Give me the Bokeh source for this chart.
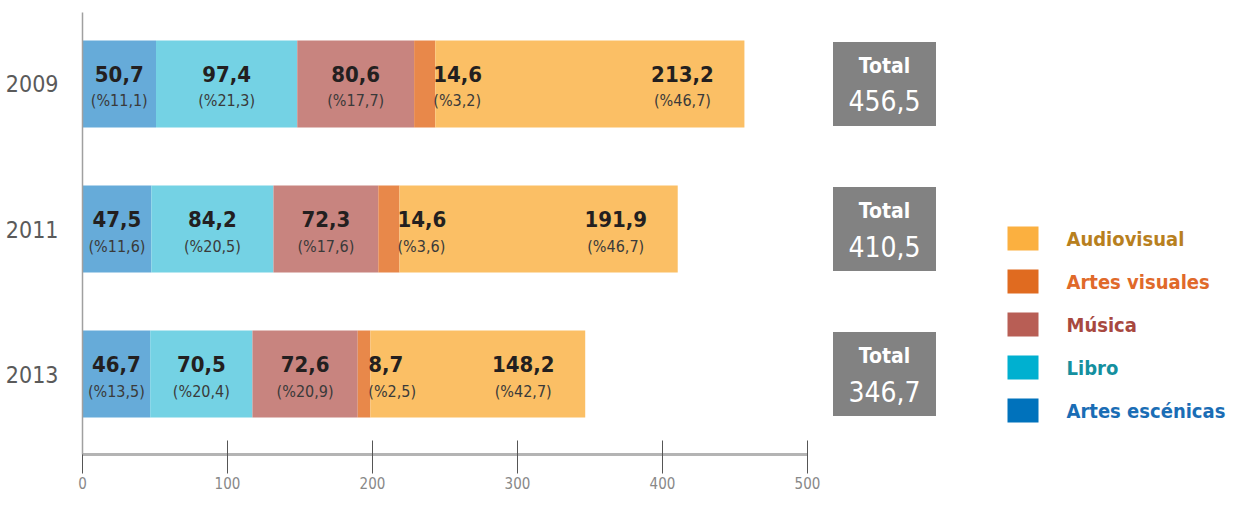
from bokeh.plotting import figure
from bokeh.models import Range1d, LinearAxis, FixedTicker, ColumnDataSource
from bokeh.core.properties import value
from bokeh.embed import file_html
from bokeh.resources import INLINE

# ---------------- data ----------------
years = ["2009", "2011", "2013"]
year_pos = [2, 1, 0]
categories = ["Artes escénicas", "Libro", "Música", "Artes visuales", "Audiovisual"]
artes_escenicas = [50.7, 47.5, 46.7]
libro = [97.4, 84.2, 70.5]
musica = [80.6, 72.3, 72.6]
artes_visuales = [14.6, 14.6, 8.7]
audiovisual = [213.2, 191.9, 148.2]
share_escenicas = [11.1, 11.6, 13.5]
share_libro = [21.3, 20.5, 20.4]
share_musica = [17.7, 17.6, 20.9]
share_visuales = [3.2, 3.6, 2.5]
share_audiovisual = [46.7, 46.7, 42.7]
totals = [456.5, 410.5, 346.7]
x_ticks = [0, 100, 200, 300, 400, 500]

series = [artes_escenicas, libro, musica, artes_visuales, audiovisual]
shares = [share_escenicas, share_libro, share_musica, share_visuales, share_audiovisual]

bar_colors = ["#66abd9", "#74d2e4", "#c8847f", "#e8884a", "#fbbf65"]
legend_colors = ["#0072bc", "#00b0d0", "#b85e55", "#e06b20", "#fbb040"]
legend_text_colors = ["#1a6db5", "#14909f", "#a8483f", "#e0692a", "#b8801e"]

FONT = "DejaVu Sans Condensed"
PX = 1.45          # pixels per x unit
PY = 145.0         # pixels per y unit
LEFT = 82
W, H = 1228, 496

def fmt(v):
    return f"{v:.1f}".replace(".", ",")

p = figure(width=W, height=H,
           x_range=Range1d(0, (W - LEFT) / PX), y_range=Range1d(-0.555, 2.493),
           output_backend="svg", toolbar_location=None,
           x_axis_type=None, y_axis_type=None,
           min_border_left=LEFT, min_border_right=0,
           min_border_top=12, min_border_bottom=42)
p.outline_line_color = None
p.background_fill_color = "white"
p.border_fill_color = "white"

# ---------------- axes ----------------
yax = LinearAxis(ticker=FixedTicker(ticks=year_pos),
                 major_label_overrides={yp: y for yp, y in zip(year_pos, years)})
yax.axis_line_color = "#a0a0a0"
yax.axis_line_width = 1.5
yax.major_tick_line_color = None
yax.minor_tick_line_color = None
yax.major_label_standoff = 18
yax.major_label_text_font = FONT
yax.major_label_text_font_size = "23px"
yax.major_label_text_color = "#5a5a5a"
p.add_layout(yax, "left")

xax = LinearAxis(ticker=FixedTicker(ticks=x_ticks), bounds=(0, 500))
xax.axis_line_color = "#b4b4b4"
xax.axis_line_width = 3
xax.major_tick_line_color = "#555555"
xax.major_tick_line_width = 1
xax.major_tick_in = 14
xax.major_tick_out = 19
xax.minor_tick_line_color = None
xax.major_label_standoff = 3
xax.major_label_text_font = FONT
xax.major_label_text_font_size = "15px"
xax.major_label_text_color = "#888888"
p.add_layout(xax, "below")

# ---------------- bars (all first) ----------------
bar_h = 87 / PY
left = [0.0, 0.0, 0.0]
bounds = []
for ci, vals in enumerate(series):
    right = [l + v for l, v in zip(left, vals)]
    bounds.append((left, right))
    src = ColumnDataSource(dict(y=year_pos, left=left, right=right))
    p.hbar(y="y", left="left", right="right", height=bar_h, source=src,
           fill_color=bar_colors[ci], line_color=None)
    left = right

# ---------------- bar labels (on top of every bar) ----------------
for ci, (vals, shr) in enumerate(zip(series, shares)):
    l_, r_ = bounds[ci]
    if ci == 3:      # Artes visuales: label starting at the end of its segment
        lx = [r - 2 / PX for r in r_]
        align = "left"
    elif ci == 4:    # Audiovisual: label toward the right end
        lx = [r - 62 / PX for r in r_]
        align = "center"
    else:
        lx = [(a + b) / 2 for a, b in zip(l_, r_)]
        align = "center"
    p.text(x=lx, y=[y + 10 / PY for y in year_pos], text=[fmt(v) for v in vals],
           text_font=value(FONT), text_font_size="22px", text_font_style="bold",
           text_color="#231f20", text_align=align, text_baseline="middle")
    p.text(x=lx, y=[y - 17 / PY for y in year_pos],
           text=["(%" + fmt(s) + ")" for s in shr],
           text_font=value(FONT), text_font_size="16px",
           text_color="#3a3a3a", text_align=align, text_baseline="middle")

# ---------------- total boxes ----------------
box_x = [(884 - LEFT) / PX] * 3
p.rect(x=box_x, y=year_pos, width=103, height=84, width_units="screen",
       height_units="screen", fill_color="#828282", line_color=None)
p.text(x=box_x, y=[y + 18 / PY for y in year_pos], text=["Total"] * 3,
       text_font=value(FONT), text_font_size="21px", text_font_style="bold",
       text_color="white", text_align="center", text_baseline="middle")
p.text(x=box_x, y=[y - 17 / PY for y in year_pos], text=[fmt(t) for t in totals],
       text_font=value(FONT), text_font_size="28px",
       text_color="white", text_align="center", text_baseline="middle")

# ---------------- legend (top to bottom: reversed categories) ----------------
leg_y0 = (373.5 - 238) / PY
leg_step = 43 / PY
order = list(range(len(categories)))[::-1]
leg_y = [leg_y0 - i * leg_step for i in range(len(order))]
p.rect(x=[(1022.5 - LEFT) / PX] * len(order), y=leg_y, width=31, height=24,
       width_units="screen", height_units="screen",
       fill_color=[legend_colors[i] for i in order], line_color=None)
p.text(x=[(1066 - LEFT) / PX] * len(order), y=leg_y, text=[categories[i] for i in order],
       text_font=value(FONT), text_font_size="20px", text_font_style="bold",
       text_color=[legend_text_colors[i] for i in order],
       text_align="left", text_baseline="middle")

open("out.html", "w").write(file_html(p, INLINE))
